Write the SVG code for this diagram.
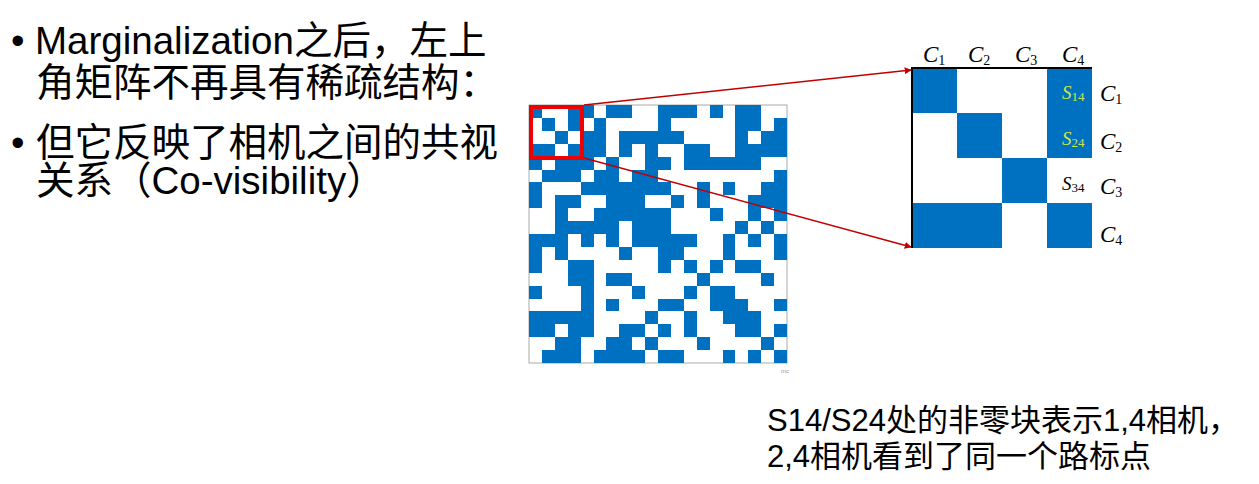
<svg xmlns="http://www.w3.org/2000/svg" width="1259" height="484" viewBox="0 0 1259 484">
<style>
.t{font-family:"Liberation Sans","Noto Sans CJK SC",sans-serif;fill:#000}
.big{font-size:38.5px}
.mid{font-size:31px}
.b{fill:#0070C0}
.m{font-family:"Liberation Serif","DejaVu Serif",serif;font-size:23px;fill:#000}
.s{font-family:"Liberation Serif","DejaVu Serif",serif;font-size:19px}
.g{fill:#C8E650}
.conn{stroke:#C00000;stroke-width:1.5;fill:none}
</style>
<defs>
<marker id="ah" viewBox="0 0 10 10" refX="9" refY="5" markerWidth="7" markerHeight="7" markerUnits="userSpaceOnUse" orient="auto"><path d="M0,0 L10,5 L0,10 z" fill="#C00000"/></marker>
</defs>
<rect width="1259" height="484" fill="#fff"/>
<g id="text-left" class="t big">
<text x="11" y="54">•</text>
<text x="35" y="54">Marginalization之后，左上</text>
<text x="36" y="96">角矩阵不再具有稀疏结构：</text>
<text x="11" y="156">•</text>
<text x="36" y="156">但它反映了相机之间的共视</text>
<text x="36" y="194">关系（Co-visibility）</text>
</g>
<g id="matrix">
<rect x="529" y="105" width="258" height="258" fill="#fff" stroke="#aaa" stroke-width="1"/>
<g transform="translate(529,105) scale(12.9)" class="b" shape-rendering="crispEdges">
<rect x="0" y="0" width="1" height="1"/><rect x="3" y="0" width="2" height="1"/><rect x="6" y="0" width="2" height="1"/><rect x="10" y="0" width="3" height="1"/><rect x="14" y="0" width="1" height="1"/><rect x="16" y="0" width="2" height="1"/>
<rect x="1" y="1" width="1" height="1"/><rect x="3" y="1" width="1" height="1"/><rect x="5" y="1" width="1" height="1"/><rect x="10" y="1" width="1" height="1"/><rect x="16" y="1" width="2" height="1"/><rect x="19" y="1" width="1" height="1"/>
<rect x="2" y="2" width="1" height="1"/><rect x="4" y="2" width="2" height="1"/><rect x="7" y="2" width="5" height="1"/><rect x="16" y="2" width="1" height="1"/><rect x="18" y="2" width="2" height="1"/>
<rect x="0" y="3" width="2" height="1"/><rect x="3" y="3" width="3" height="1"/><rect x="7" y="3" width="1" height="1"/><rect x="9" y="3" width="1" height="1"/><rect x="12" y="3" width="2" height="1"/><rect x="16" y="3" width="4" height="1"/>
<rect x="0" y="4" width="1" height="1"/><rect x="2" y="4" width="3" height="1"/><rect x="6" y="4" width="1" height="1"/><rect x="9" y="4" width="2" height="1"/><rect x="12" y="4" width="6" height="1"/>
<rect x="1" y="5" width="3" height="1"/><rect x="5" y="5" width="2" height="1"/><rect x="8" y="5" width="2" height="1"/><rect x="19" y="5" width="1" height="1"/>
<rect x="0" y="6" width="1" height="1"/><rect x="4" y="6" width="7" height="1"/><rect x="13" y="6" width="1" height="1"/><rect x="15" y="6" width="1" height="1"/><rect x="18" y="6" width="2" height="1"/>
<rect x="0" y="7" width="1" height="1"/><rect x="2" y="7" width="2" height="1"/><rect x="6" y="7" width="3" height="1"/><rect x="11" y="7" width="1" height="1"/><rect x="13" y="7" width="1" height="1"/><rect x="17" y="7" width="3" height="1"/>
<rect x="2" y="8" width="1" height="1"/><rect x="5" y="8" width="6" height="1"/><rect x="14" y="8" width="1" height="1"/><rect x="17" y="8" width="1" height="1"/><rect x="19" y="8" width="1" height="1"/>
<rect x="2" y="9" width="5" height="1"/><rect x="8" y="9" width="3" height="1"/><rect x="16" y="9" width="1" height="1"/><rect x="18" y="9" width="1" height="1"/>
<rect x="0" y="10" width="3" height="1"/><rect x="4" y="10" width="1" height="1"/><rect x="6" y="10" width="1" height="1"/><rect x="8" y="10" width="5" height="1"/><rect x="15" y="10" width="1" height="1"/><rect x="17" y="10" width="1" height="1"/><rect x="19" y="10" width="1" height="1"/>
<rect x="0" y="11" width="1" height="1"/><rect x="2" y="11" width="1" height="1"/><rect x="7" y="11" width="1" height="1"/><rect x="10" y="11" width="2" height="1"/><rect x="15" y="11" width="1" height="1"/><rect x="19" y="11" width="1" height="1"/>
<rect x="0" y="12" width="1" height="1"/><rect x="3" y="12" width="2" height="1"/><rect x="10" y="12" width="1" height="1"/><rect x="12" y="12" width="1" height="1"/><rect x="14" y="12" width="1" height="1"/><rect x="16" y="12" width="2" height="1"/>
<rect x="3" y="13" width="2" height="1"/><rect x="6" y="13" width="2" height="1"/><rect x="13" y="13" width="1" height="1"/><rect x="18" y="13" width="1" height="1"/>
<rect x="0" y="14" width="1" height="1"/><rect x="4" y="14" width="1" height="1"/><rect x="8" y="14" width="1" height="1"/><rect x="12" y="14" width="1" height="1"/><rect x="14" y="14" width="2" height="1"/>
<rect x="4" y="15" width="1" height="1"/><rect x="6" y="15" width="1" height="1"/><rect x="10" y="15" width="2" height="1"/><rect x="14" y="15" width="3" height="1"/><rect x="19" y="15" width="1" height="1"/>
<rect x="0" y="16" width="5" height="1"/><rect x="9" y="16" width="1" height="1"/><rect x="12" y="16" width="1" height="1"/><rect x="15" y="16" width="3" height="1"/>
<rect x="0" y="17" width="2" height="1"/><rect x="3" y="17" width="2" height="1"/><rect x="7" y="17" width="2" height="1"/><rect x="10" y="17" width="1" height="1"/><rect x="12" y="17" width="1" height="1"/><rect x="16" y="17" width="2" height="1"/><rect x="19" y="17" width="1" height="1"/>
<rect x="2" y="18" width="2" height="1"/><rect x="6" y="18" width="2" height="1"/><rect x="9" y="18" width="1" height="1"/><rect x="13" y="18" width="1" height="1"/><rect x="18" y="18" width="1" height="1"/>
<rect x="1" y="19" width="3" height="1"/><rect x="5" y="19" width="4" height="1"/><rect x="10" y="19" width="2" height="1"/><rect x="15" y="19" width="1" height="1"/><rect x="17" y="19" width="1" height="1"/><rect x="19" y="19" width="1" height="1"/>
</g>
<rect x="531" y="107" width="51" height="51" fill="none" stroke="#EE0000" stroke-width="4"/>
<text x="781" y="373" font-family="Liberation Sans,sans-serif" font-size="6" fill="#999">mc</text>
</g>
<g id="zoom-matrix">
<rect x="912" y="68" width="180" height="180" fill="#fff"/>
<g class="b">
<rect x="912" y="68" width="45" height="45"/><rect x="1047" y="68" width="45" height="90"/>
<rect x="957" y="113" width="45" height="45"/>
<rect x="1002" y="158" width="45" height="45"/>
<rect x="912" y="203" width="90" height="45"/><rect x="1047" y="203" width="45" height="45"/>
</g>
<path d="M912,248 V68 H1092" fill="none" stroke="#000" stroke-width="2"/>
<g class="m">
<text x="923" y="62"><tspan font-style="italic">C</tspan><tspan font-size="14" dy="3">1</tspan></text>
<text x="968" y="62"><tspan font-style="italic">C</tspan><tspan font-size="14" dy="3">2</tspan></text>
<text x="1015" y="62"><tspan font-style="italic">C</tspan><tspan font-size="14" dy="3">3</tspan></text>
<text x="1062" y="62"><tspan font-style="italic">C</tspan><tspan font-size="14" dy="3">4</tspan></text>
<text x="1100" y="101"><tspan font-style="italic">C</tspan><tspan font-size="14" dy="3">1</tspan></text>
<text x="1100" y="149"><tspan font-style="italic">C</tspan><tspan font-size="14" dy="3">2</tspan></text>
<text x="1100" y="194"><tspan font-style="italic">C</tspan><tspan font-size="14" dy="3">3</tspan></text>
<text x="1100" y="242"><tspan font-style="italic">C</tspan><tspan font-size="14" dy="3">4</tspan></text>
</g>
<text class="s g" x="1062" y="99"><tspan font-style="italic">S</tspan><tspan font-size="13" dy="2">14</tspan></text>
<text class="s g" x="1062" y="145"><tspan font-style="italic">S</tspan><tspan font-size="13" dy="2">24</tspan></text>
<text class="s" x="1062" y="190" fill="#000"><tspan font-style="italic">S</tspan><tspan font-size="13" dy="2">34</tspan></text>
</g>
<g id="connectors">
<line class="conn" x1="584" y1="105" x2="911" y2="70" marker-end="url(#ah)"/>
<line class="conn" x1="584" y1="158" x2="911" y2="247" marker-end="url(#ah)"/>
</g>
<g id="text-bottom" class="t mid">
<text x="767" y="431">S14/S24处的非零块表示1,4相机，</text>
<text x="767" y="467">2,4相机看到了同一个路标点</text>
</g>
</svg>
